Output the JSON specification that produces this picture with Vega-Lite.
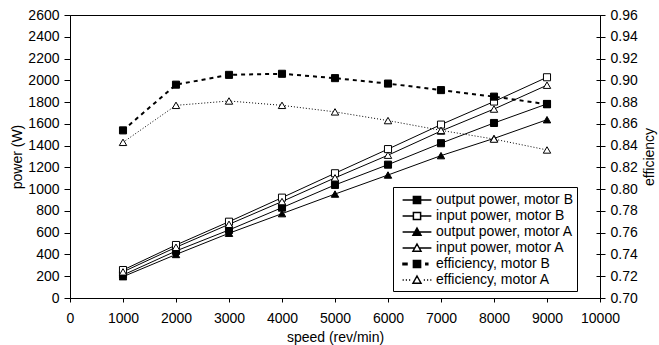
{
  "$schema": "https://vega.github.io/schema/vega-lite/v6.json",
  "width": 530,
  "height": 283,
  "autosize": {"type": "none"},
  "padding": {"left": 70, "top": 15, "right": 59, "bottom": 47},
  "background": "white",
  "config": {
    "font": "Liberation Sans",
    "view": {"stroke": "black", "strokeWidth": 1},
    "axis": {
      "grid": false,
      "domainColor": "black",
      "domainWidth": 1,
      "tickColor": "black",
      "tickSize": 5,
      "labelColor": "black",
      "labelFontSize": 14,
      "labelFont": "Liberation Sans",
      "titleFont": "Liberation Sans",
      "titleFontSize": 14,
      "titleFontWeight": "normal",
      "titleColor": "black"
    },
    "legend": {
      "labelFont": "Liberation Sans",
      "labelFontSize": 14,
      "labelColor": "black"
    }
  },
  "datasets": {
    "power": [
      {"speed": 1000, "series": "output power, motor B", "value": 211},
      {"speed": 2000, "series": "output power, motor B", "value": 432},
      {"speed": 3000, "series": "output power, motor B", "value": 625},
      {"speed": 4000, "series": "output power, motor B", "value": 830},
      {"speed": 5000, "series": "output power, motor B", "value": 1039},
      {"speed": 6000, "series": "output power, motor B", "value": 1225},
      {"speed": 7000, "series": "output power, motor B", "value": 1422},
      {"speed": 8000, "series": "output power, motor B", "value": 1608},
      {"speed": 9000, "series": "output power, motor B", "value": 1783},
      {"speed": 1000, "series": "input power, motor B", "value": 257},
      {"speed": 2000, "series": "input power, motor B", "value": 487},
      {"speed": 3000, "series": "input power, motor B", "value": 701},
      {"speed": 4000, "series": "input power, motor B", "value": 922},
      {"speed": 5000, "series": "input power, motor B", "value": 1146},
      {"speed": 6000, "series": "input power, motor B", "value": 1368},
      {"speed": 7000, "series": "input power, motor B", "value": 1593},
      {"speed": 8000, "series": "input power, motor B", "value": 1805},
      {"speed": 9000, "series": "input power, motor B", "value": 2028},
      {"speed": 1000, "series": "output power, motor A", "value": 196},
      {"speed": 2000, "series": "output power, motor A", "value": 400},
      {"speed": 3000, "series": "output power, motor A", "value": 595},
      {"speed": 4000, "series": "output power, motor A", "value": 775},
      {"speed": 5000, "series": "output power, motor A", "value": 955},
      {"speed": 6000, "series": "output power, motor A", "value": 1130},
      {"speed": 7000, "series": "output power, motor A", "value": 1308},
      {"speed": 8000, "series": "output power, motor A", "value": 1466},
      {"speed": 9000, "series": "output power, motor A", "value": 1638},
      {"speed": 1000, "series": "input power, motor A", "value": 240},
      {"speed": 2000, "series": "input power, motor A", "value": 466},
      {"speed": 3000, "series": "input power, motor A", "value": 677},
      {"speed": 4000, "series": "input power, motor A", "value": 886},
      {"speed": 5000, "series": "input power, motor A", "value": 1104},
      {"speed": 6000, "series": "input power, motor A", "value": 1312},
      {"speed": 7000, "series": "input power, motor A", "value": 1534},
      {"speed": 8000, "series": "input power, motor A", "value": 1736},
      {"speed": 9000, "series": "input power, motor A", "value": 1955}
    ],
    "eff": [
      {"speed": 1000, "series": "efficiency, motor B", "value": 0.854},
      {"speed": 2000, "series": "efficiency, motor B", "value": 0.896},
      {"speed": 3000, "series": "efficiency, motor B", "value": 0.905},
      {"speed": 4000, "series": "efficiency, motor B", "value": 0.906},
      {"speed": 5000, "series": "efficiency, motor B", "value": 0.902},
      {"speed": 6000, "series": "efficiency, motor B", "value": 0.897},
      {"speed": 7000, "series": "efficiency, motor B", "value": 0.891},
      {"speed": 8000, "series": "efficiency, motor B", "value": 0.885},
      {"speed": 9000, "series": "efficiency, motor B", "value": 0.878},
      {"speed": 1000, "series": "efficiency, motor A", "value": 0.843},
      {"speed": 2000, "series": "efficiency, motor A", "value": 0.877},
      {"speed": 3000, "series": "efficiency, motor A", "value": 0.881},
      {"speed": 4000, "series": "efficiency, motor A", "value": 0.877},
      {"speed": 5000, "series": "efficiency, motor A", "value": 0.871},
      {"speed": 6000, "series": "efficiency, motor A", "value": 0.863},
      {"speed": 7000, "series": "efficiency, motor A", "value": 0.854},
      {"speed": 8000, "series": "efficiency, motor A", "value": 0.846},
      {"speed": 9000, "series": "efficiency, motor A", "value": 0.836}
    ],
    "legend": [
      {"speed": 1000, "value": 0, "series": "output power, motor B"}
    ]
  },
  "layer": [
    {
      "data": {"name": "power"},
      "encoding": {
        "x": {
          "field": "speed", "type": "quantitative",
          "scale": {"domain": [0, 10000], "nice": false},
          "axis": {"title": "speed (rev/min)", "values": [0,1000,2000,3000,4000,5000,6000,7000,8000,9000,10000], "format": "d", "tickSize": 4, "labelPadding": 9, "titlePadding": 5, "labelFlush": false}
        },
        "y": {
          "field": "value", "type": "quantitative",
          "scale": {"domain": [0, 2600], "nice": false},
          "axis": {"title": "power (W)", "values": [0,200,400,600,800,1000,1200,1400,1600,1800,2000,2200,2400,2600], "format": "d", "tickSize": 6, "labelPadding": 5, "titlePadding": 3, "labelFlush": false}
        }
      },
      "layer": [
        {"mark": {"type": "line", "color": "black", "strokeWidth": 1}, "encoding": {"detail": {"field": "series"}}},
        {"transform": [{"filter": "datum.series === 'output power, motor B'"}],
         "mark": {"type": "point", "shape": "square", "size": 50, "filled": true, "fill": "black", "stroke": "black", "strokeWidth": 1, "opacity": 1}},
        {"transform": [{"filter": "datum.series === 'input power, motor B'"}],
         "mark": {"type": "point", "shape": "square", "size": 50, "filled": true, "fill": "white", "stroke": "black", "strokeWidth": 1, "opacity": 1}},
        {"transform": [{"filter": "datum.series === 'output power, motor A'"}],
         "mark": {"type": "point", "shape": "triangle-up", "size": 55, "filled": true, "fill": "black", "stroke": "black", "strokeWidth": 1, "opacity": 1}},
        {"transform": [{"filter": "datum.series === 'input power, motor A'"}],
         "mark": {"type": "point", "shape": "triangle-up", "size": 55, "filled": true, "fill": "white", "stroke": "black", "strokeWidth": 1, "opacity": 1}},
        {
          "data": {"name": "legend"},
          "transform": [{"filter": "false"}],
          "mark": {"type": "point", "stroke": "black", "strokeWidth": 1, "opacity": 1},
          "encoding": {
            "shape": {
              "field": "series", "type": "nominal",
              "scale": {
                "domain": ["output power, motor B", "input power, motor B", "output power, motor A", "input power, motor A", "efficiency, motor B", "efficiency, motor A"],
                "range": [
                  "M-1.8,0H-0.45M0.45,0H1.8M-0.45,-0.45H0.45V0.45H-0.45Z",
                  "M-1.8,0H-0.45M0.45,0H1.8M-0.45,-0.45H0.45V0.45H-0.45Z",
                  "M-1.8,0H-0.28M0.28,0H1.8M0,-0.5L0.5,0.4L-0.5,0.4Z",
                  "M-1.8,0H-0.28M0.28,0H1.8M0,-0.5L0.5,0.4L-0.5,0.4Z",
                  "M-1.75,-0.1H-1.25V0.1H-1.75ZM-0.45,-0.45H0.45V0.45H-0.45ZM1.1,-0.1H1.35V0.1H1.1Z",
                  "M-1.8,0H-1.65M-1.4,0H-1.25M-1,0H-0.85M0,-0.5L0.5,0.4L-0.5,0.4ZM0.85,0H1M1.25,0H1.4M1.65,0H1.8"
                ]
              },
              "legend": {
                "title": null, "orient": "none", "legendX": 323, "legendY": 172,
                "strokeColor": "black", "fillColor": "white", "padding": 4,
                "symbolSize": 256, "symbolOffset": 11,
                "rowPadding": 0, "labelOffset": 10, "labelLimit": 400,
                "encode": {"symbols": {"update": {"stroke": {"value": "black"}, "strokeWidth": {"value": 1}, "opacity": {"value": 1}}}}
              }
            },
            "fill": {
              "field": "series", "type": "nominal",
              "scale": {
                "domain": ["output power, motor B", "input power, motor B", "output power, motor A", "input power, motor A", "efficiency, motor B", "efficiency, motor A"],
                "range": ["black", "white", "black", "white", "black", "white"]
              },
              "legend": {
                "title": null, "orient": "none", "legendX": 323, "legendY": 172,
                "strokeColor": "black", "fillColor": "white", "padding": 4,
                "symbolSize": 256, "symbolOffset": 11,
                "rowPadding": 0, "labelOffset": 10, "labelLimit": 400,
                "encode": {"symbols": {"update": {"stroke": {"value": "black"}, "strokeWidth": {"value": 1}, "opacity": {"value": 1}}}}
              }
            }
          }
        }
      ]
    },
    {
      "data": {"name": "eff"},
      "encoding": {
        "x": {"field": "speed", "type": "quantitative", "scale": {"domain": [0, 10000], "nice": false}},
        "y": {
          "field": "value", "type": "quantitative",
          "scale": {"domain": [0.7, 0.96], "nice": false, "zero": false},
          "axis": {"orient": "right", "title": "efficiency", "titleAngle": 270, "titleBaseline": "top", "values": [0.7,0.72,0.74,0.76,0.78,0.8,0.82,0.84,0.86,0.88,0.9,0.92,0.94,0.96], "format": ".2f", "tickSize": 5, "labelPadding": 5, "titlePadding": 5, "labelFlush": false}
        }
      },
      "layer": [
        {"transform": [{"filter": "datum.series === 'efficiency, motor B'"}],
         "mark": {"type": "line", "color": "black", "strokeWidth": 2, "strokeDash": [4, 4]}},
        {"transform": [{"filter": "datum.series === 'efficiency, motor A'"}],
         "mark": {"type": "line", "color": "black", "strokeWidth": 1, "strokeDash": [1, 2]}},
        {"transform": [{"filter": "datum.series === 'efficiency, motor B'"}],
         "mark": {"type": "point", "shape": "square", "size": 50, "filled": true, "fill": "black", "stroke": "black", "strokeWidth": 1, "opacity": 1}},
        {"transform": [{"filter": "datum.series === 'efficiency, motor A'"}],
         "mark": {"type": "point", "shape": "triangle-up", "size": 55, "filled": true, "fill": "white", "stroke": "black", "strokeWidth": 1, "opacity": 1}}
      ]
    },
    {
      "data": {"name": "eff"},
      "transform": [{"filter": "false"}],
      "mark": {"type": "point"},
      "encoding": {
        "x": {"field": "speed", "type": "quantitative", "scale": {"domain": [0, 10000], "nice": false}},
        "y": {
          "field": "value", "type": "quantitative",
          "scale": {"domain": [0.7, 0.96], "nice": false, "zero": false},
          "axis": {"orient": "right", "title": null, "offset": -4, "tickSize": 4, "labels": false, "domain": false, "values": [0.7,0.72,0.74,0.76,0.78,0.8,0.82,0.84,0.86,0.88,0.9,0.92,0.94,0.96]}
        }
      }
    }
  ],
  "resolve": {"scale": {"y": "independent"}}
}
